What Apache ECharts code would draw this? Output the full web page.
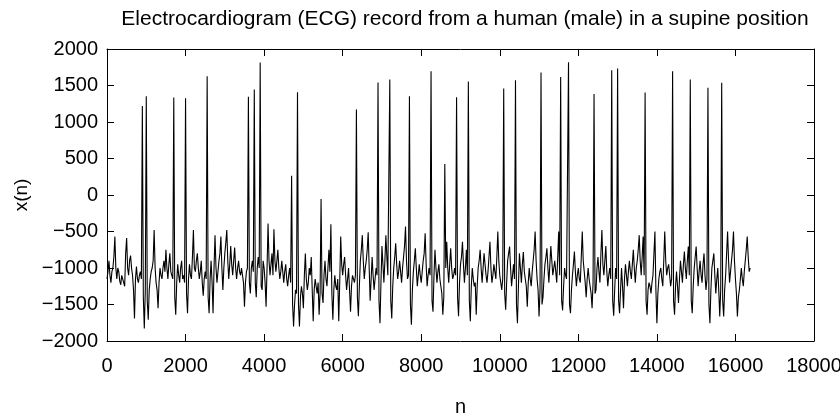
<!DOCTYPE html>
<html>
<head>
<meta charset="utf-8">
<script src="https://cdn.jsdelivr.net/npm/echarts@6/dist/echarts.min.js"></script>
<style>html,body{margin:0;padding:0;background:#fff;}#c{width:840px;height:417px;}</style>
</head>
<body>
<div id="c"></div>
<script>
const titleText = 'Electrocardiogram (ECG) record from a human (male) in a supine position';
const xName = 'n';
const yName = 'x(n)';
const sampleStep = 50;
const xTicks = [0, 2000, 4000, 6000, 8000, 10000, 12000, 14000, 16000, 18000];
const yTicks = [-2000, -1500, -1000, -500, 0, 500, 1000, 1500, 2000];
// ECG values, at n = 0, 50, 100, ...
const ecg = [
 -1150,-900,-1200,-1000,-570,-1150,-1050,-1230,-1080,-1250,
 -590,-1100,-830,-1100,-1690,-980,-1200,-1050,1218,-1830,
 1354,-1710,-1150,-1000,-480,-1200,-1550,-1000,-1150,-900,
 -750,-1150,-800,-1100,1336,-1640,-950,-1200,-900,-1100,
 1327,-1620,-950,-1150,-480,-1050,-800,-1150,-900,-1380,
 -1050,1628,-1620,-900,-1620,-550,-1200,-900,-570,-1300,
 -800,-480,-1150,-700,-1100,-720,-1150,-900,-1100,-980,
 -1530,-1050,1345,-1350,-900,1446,-1400,-850,1815,-1300,
 -1000,-1530,-390,-1100,-800,-470,-1050,-750,-1150,-900,
 -1200,-950,-1250,-1000,264,-1800,-1300,1409,-1800,-1250,
 -1550,-800,-1300,-1000,-850,-1730,-1150,-1350,-1640,-55,
 -1480,-900,-1250,-750,-400,-1710,-1100,-1300,-1730,-570,
 -1100,-850,-1300,-1000,-1600,-1100,-1200,1172,-1660,-900,
 -550,-1150,-900,-510,-1450,-850,-1300,-1000,1541,-1756,
 -700,-1200,-550,-1100,1582,-1690,-1000,-660,-1150,-900,
 -1200,-850,-433,-1150,1354,-1778,-1050,-730,-1250,-950,
 -1200,-900,-525,-1250,-1000,1696,-1600,-750,-1200,-950,
 -1250,-1640,424,-640,-1200,-730,-1150,-1000,1340,-1660,
 -950,-640,-1200,-750,1555,-1730,-1000,-1250,-1640,-1000,
 -750,-1200,-800,-1100,-1050,-640,-1200,-950,-1150,-500,
 -1100,-1300,1459,-1573,-900,-706,-1250,-950,1573,-1756,
 -800,-1200,-780,-1150,-1530,-1000,-1250,-900,-500,-1150,
 -1664,1678,-1400,-950,-730,-1200,-700,-1100,-900,-1200,
 -500,1618,-1580,-1000,-1150,1819,-1620,-1100,-775,-1250,
 -1000,-1200,-500,-1050,-1400,-1000,-1250,-1550,1382,-1300,
 -850,-1200,-480,-1100,-700,-1250,-1000,1710,-1655,-1000,
 1733,-1620,-1000,-1550,-950,-1250,-900,-1150,-750,-1200,
 -900,-550,-1100,-570,1405,-1640,-1200,-1350,-1100,-500,
 -1756,-1150,-1000,-1250,-500,-1100,-950,-1250,1696,-1640,
 -1050,-1480,-900,-1200,-775,-1150,-706,1582,-1620,-1000,
 -706,-1250,-900,-1200,-800,-1300,1468,-1756,-1000,-800,
 -1350,-1000,-1664,1536,-1664,-1100,-500,-1200,-900,-500,
 -1150,-1664,-1300,-1000,-1250,-900,-570,-1050
];
// ECG values, at n = 25, 75, 125, ...
const ecgMid = [
 -1050,-1100,-1050,-850,-1000,-1000,-1180,-1100,-1200,-800,
 -1000,-900,-1000,-1300,-1150,-1150,-1100,-1150,-1400,-1300,
 -1450,-1300,-1050,-900,-1000,-1300,-1200,-1100,-1000,-1050,
 -1000,-950,-1050,-1150,-1400,-1200,-1100,-1000,-1150,-1200,
 -1350,-1150,-1100,-850,-1000,-900,-1000,-1050,-1200,-1150,
 -1150,-1400,-1150,-1200,-1000,-1000,-1050,-800,-1000,-1000,
 -650,-900,-950,-950,-900,-1000,-1000,-1050,-1000,-1200,
 -1200,-1000,-1200,-1000,-1050,-1200,-1000,-1000,-1250,-900,
 -1200,-1000,-900,-950,-1100,-900,-900,-1000,-1050,-1050,
 -1050,-1150,-1100,-1200,-1500,-1500,-1350,-1500,-1400,-1350,
 -1100,-1150,-1200,-1100,-1300,-1300,-1250,-1200,-1350,-1350,
 -1100,-1150,-1000,-1050,-1350,-1300,-1250,-1150,-1200,-950,
 -950,-1100,-1150,-1300,-1250,-1150,-1100,-1400,-1250,-750,
 -900,-1000,-750,-1000,-1150,-1100,-1150,-1100,-1450,-1200,
 -950,-900,-850,-1100,-1450,-1250,-850,-950,-1050,-1050,
 -1000,-700,-900,-1100,-1500,-1300,-900,-1000,-1100,-1100,
 -1050,-800,-950,-1100,-1100,-1450,-1100,-1000,-1050,-1150,
 -1350,-1400,-1000,-1000,-950,-1000,-1100,-1100,-1400,-1200,
 -850,-950,-1000,-1100,-1450,-1250,-1150,-1200,-1250,-900,
 -1000,-1000,-950,-1200,-850,-1000,-1100,-1050,-850,-900,
 -1200,-1150,-1350,-1200,-800,-1000,-1100,-1150,-1500,-1250,
 -1000,-950,-1050,-1250,-1200,-1150,-1050,-750,-900,-1300,
 -1300,-1500,-1150,-850,-1000,-950,-900,-1000,-1050,-850,
 -1100,-1450,-1250,-1100,-1150,-1500,-1300,-950,-1050,-1100,
 -1150,-850,-900,-1200,-1150,-1150,-1350,-1200,-1350,-1000,
 -1050,-800,-950,-900,-1050,-1100,-1150,-1450,-1300,-1150,
 -1450,-1300,-1250,-1150,-1100,-1050,-1050,-950,-1000,-1000,
 -750,-900,-850,-1100,-1450,-1300,-1250,-1200,-800,-1300,
 -1350,-1050,-1150,-900,-900,-1000,-1100,-1150,-1450,-1250,
 -1250,-1150,-1050,-950,-1000,-900,-1100,-1450,-1250,-850,
 -1000,-1050,-1100,-950,-1100,-1150,-1500,-1300,-900,-1100,
 -1150,-1300,-1300,-1450,-1300,-800,-900,-1050,-750,-900,
 -1350,-1400,-1150,-1150,-1050,-750,-850,-1000
];
const seriesData = [];
ecg.forEach((v, i) => {
  seriesData.push([i * sampleStep, v]);
  if (i < ecgMid.length) seriesData.push([i * sampleStep + sampleStep / 2, ecgMid[i]]);
});
const font = 'Liberation Sans, Arial, Helvetica, sans-serif';
const fmt = v => String(v).replace('-', '\u2212');
const chart = echarts.init(document.getElementById('c'), null, {renderer: 'canvas'});
function axisCommon() {
  return {
    axisLine: {show: true, onZero: false, lineStyle: {color: '#000', width: 1}},
    axisTick: {show: true, inside: true, length: 7, lineStyle: {color: '#000'}},
    splitLine: {show: false}
  };
}
chart.setOption({
  animation: false,
  backgroundColor: '#fff',
  title: {text: titleText, left: 460, top: 4, textAlign: 'center',
    textStyle: {fontFamily: font, fontSize: 21, fontWeight: 'normal', color: '#000'}},
  grid: {left: 107, right: 26, top: 49, bottom: 76, containLabel: false, outerBoundsMode: 'none'},
  xAxis: [
    Object.assign({type: 'value', min: 0, max: 18000, interval: 2000, position: 'bottom',
      name: xName, nameLocation: 'middle', nameGap: 56,
      nameTextStyle: {fontFamily: font, fontSize: 20, color: '#000'},
      axisLabel: {fontFamily: font, fontSize: 20, color: '#000', margin: 15, formatter: fmt}}, axisCommon()),
    Object.assign({type: 'value', min: 0, max: 18000, interval: 2000, position: 'top',
      axisLabel: {show: false}}, axisCommon())
  ],
  yAxis: [
    Object.assign({type: 'value', min: -2000, max: 2000, interval: 500, position: 'left',
      name: yName, nameLocation: 'middle', nameGap: 76, nameRotate: 90,
      nameTextStyle: {fontFamily: font, fontSize: 19, color: '#000'},
      axisLabel: {fontFamily: font, fontSize: 20, color: '#000', margin: 9, formatter: fmt}}, axisCommon()),
    Object.assign({type: 'value', min: -2000, max: 2000, interval: 500, position: 'right',
      axisLabel: {show: false}}, axisCommon())
  ],
  series: [{
    type: 'line', data: seriesData, showSymbol: false, symbol: 'none',
    lineStyle: {color: '#000', width: 1.1}, xAxisIndex: 0, yAxisIndex: 0
  }]
});
</script>
</body>
</html>
